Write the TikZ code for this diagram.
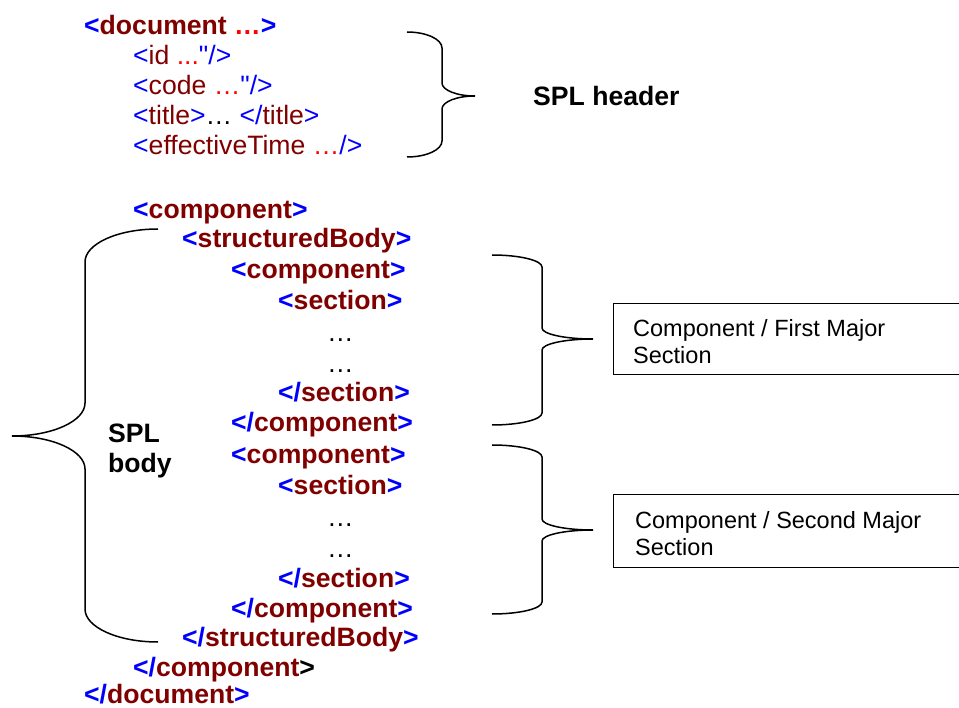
\documentclass[tikz,border=0pt]{standalone}
\usepackage{fontspec}
\setmainfont{Liberation Sans}
\definecolor{tagblue}{RGB}{0,0,255}
\definecolor{tagname}{RGB}{128,0,0}
\definecolor{attrred}{RGB}{255,0,0}
\newcommand\tagB[1]{\textcolor{tagblue}{#1}}
\newcommand\tagN[1]{\textcolor{tagname}{#1}}
\newcommand\tagR[1]{\textcolor{attrred}{#1}}
% straight double quote, set as a glyph so no quote mapping turns it curly
\newcommand\sq{\XeTeXglyph\XeTeXcharglyph"22\relax}
% curly brace: #1 end x, #2 stem x, #3 tip x, #4 top y, #5 tip y, #6 bottom y,
% #7 end-corner height, #8 tip-corner height
\newcommand\DrawBrace[8]{%
  \draw[brace] (#1,#4) .. controls ({#1+0.552*(#2-#1)},#4) and (#2,{#4+0.448*#7}) .. (#2,{#4+#7})
    -- (#2,{#5-#8}) .. controls (#2,{#5-0.448*#8}) and ({#3-0.552*(#3-#2)},#5) .. (#3,#5)
    .. controls ({#3-0.552*(#3-#2)},#5) and (#2,{#5+0.448*#8}) .. (#2,{#5+#8})
    -- (#2,{#6-#7}) .. controls (#2,{#6-0.448*#7}) and ({#1+0.552*(#2-#1)},#6) .. (#1,#6);}
\tikzset{
  xmlreg/.style={anchor=base west, inner sep=0pt, font=\fontsize{26.6}{30}\selectfont},
  xmlbold/.style={anchor=base west, inner sep=0pt, font=\fontsize{26.6}{30}\selectfont\bfseries},
  splbold/.style={anchor=base west, inner sep=0pt, font=\fontsize{26.6}{30}\selectfont\bfseries},
  brace/.style={draw=black, line width=1.5pt},
  notebox/.style={draw=black, line width=1.3pt, anchor=north west, minimum width=350pt, inner sep=0pt},
  notetext/.style={anchor=base west, inner sep=0pt, font=\fontsize{23.5}{27}\selectfont},
}
\begin{document}
\begin{tikzpicture}[x=1pt,y=-1pt]
\useasboundingbox (0,0) rectangle (959,708);
\clip (0,0) rectangle (959,708);

% header part of the document
\node[xmlbold] (doc) at (84,35) {\tagB{<}\tagN{document }\tagR{…}\tagB{>}};
\node[xmlreg] (id) at (133,65) {\tagB{<}\tagN{id }\tagR{...}\tagB{\sq/>}};
\node[xmlreg] (code) at (133,95) {\tagB{<}\tagN{code }\tagR{…}\tagB{\sq/>}};
\node[xmlreg] (title) at (133,125) {\tagB{<}\tagN{title}\tagB{>}…\ \tagB{</}\tagN{title}\tagB{>}};
\node[xmlreg] (etime) at (133,155) {\tagB{<}\tagN{effectiveTime }\tagR{…}\tagB{/>}};

% body part
\node[xmlbold] (comp) at (133,219) {\tagB{<}\tagN{component}\tagB{>}};
\node[xmlbold] (sbody) at (182,248) {\tagB{<}\tagN{structuredBody}\tagB{>}};
\node[xmlbold] (compa) at (231,279) {\tagB{<}\tagN{component}\tagB{>}};
\node[xmlbold] (seca) at (278,310) {\tagB{<}\tagN{section}\tagB{>}};
\node[xmlreg] (dotsa1) at (327,342) {…};
\node[xmlreg] (dotsa2) at (327,373) {…};
\node[xmlbold] (secae) at (278,402) {\tagB{</}\tagN{section}\tagB{>}};
\node[xmlbold] (compae) at (231,432) {\tagB{</}\tagN{component}\tagB{>}};
\node[xmlbold] (compb) at (231,464) {\tagB{<}\tagN{component}\tagB{>}};
\node[xmlbold] (secb) at (278,495) {\tagB{<}\tagN{section}\tagB{>}};
\node[xmlreg] (dotsb1) at (327,526) {…};
\node[xmlreg] (dotsb2) at (327,557) {…};
\node[xmlbold] (secbe) at (278,587) {\tagB{</}\tagN{section}\tagB{>}};
\node[xmlbold] (compbe) at (231,617) {\tagB{</}\tagN{component}\tagB{>}};
\node[xmlbold] (sbodye) at (182,646) {\tagB{</}\tagN{structuredBody}\tagB{>}};
\node[xmlbold] (compe) at (133,676) {\tagB{</}\tagN{component}>};
\node[xmlbold] (doce) at (84,703) {\tagB{</}\tagN{document}\tagB{>}};

% braces
\DrawBrace{407}{442}{475}{32}{96}{157}{16}{13}
\DrawBrace{158}{85}{12}{229}{436}{642}{33}{33}
\DrawBrace{492}{542}{593}{255}{339}{425}{12}{11}
\DrawBrace{492}{542}{593}{445}{530}{614}{12}{11}

% labels
\node[splbold] (hdr) at (533,106) {SPL header};
\node[splbold] (bodyA) at (108,443) {SPL};
\node[splbold] (bodyB) at (108,472) {body};

\node[notebox, minimum height=71pt] (box1) at (613,303) {};
\node[notetext] (box1a) at (633,337) {Component / First Major};
\node[notetext] (box1b) at (633,364) {Section};
\node[notebox, minimum height=73pt] (box2) at (613,494) {};
\node[notetext] (box2a) at (635,528) {Component / Second Major};
\node[notetext] (box2b) at (635,555) {Section};
\end{tikzpicture}
\end{document}
